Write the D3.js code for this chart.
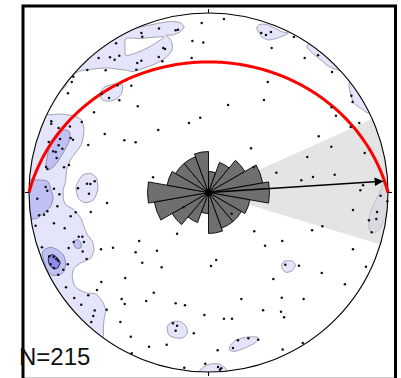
<!DOCTYPE html>
<html>
<head>
<meta charset="utf-8">
<script src="https://cdn.jsdelivr.net/npm/d3@7"></script>
<style>
  html, body { margin: 0; padding: 0; background: #fff; }
  svg { display: block; }
</style>
</head>
<body>
<svg id="net" width="401" height="378"></svg>
<script>
// ---- Poles: projected net coordinates (east, north), % of the net radius ----
const poleE = [-37.4,-36.9,-61.2,-54.9,-52.3,-49.7,-39.7,-37.4,-40.2,-67.5,
  -57.3,-75.3,-76.2,-78.3,-59.5,-55.4,-50.6,-49.7,-43.0,-39.4,
  -63.8,-87.6,-87.6,-83.5,-77.2,-70.6,-57.8,-46.9,-40.6,-89.0,
  -82.7,-76.8,-75.5,-67.0,-83.5,-81.4,-86.5,-85.1,-84.6,-77.7,
  -80.5,-90.5,-89.8,-30.9,-67.7,-65.8,-63.4,-72.7,-66.6,-90.7,
  -89.8,-86.1,-83.1,-3.8,8.6,-27.6,-18.3,-17.0,-9.0,-2.9,
  -25.2,-24.2,-27.7,-25.7,-9.4,29.4,32.0,34.8,33.0,30.9,
  10.9,-4.6,-10.9,-28.0,23.7,25.2,47.6,35.2,53.6,61.0,
  68.8,79.6,80.3,68.6,71.0,84.0,79.2,61.4,68.4,55.0,
  87.0,37.8,70.3,58.2,51.7,86.1,84.6,95.9,-95.4,-56.5,
  -84.2,-89.8,-91.6,-94.4,-74.0,-65.6,-76.8,-86.1,-96.3,-80.1,
  -72.3,-70.3,-69.4,-75.1,-92.8,-77.9,-70.1,-59.9,-53.2,-38.6,
  -40.6,-36.9,-67.9,-88.7,-86.2,-84.8,-83.7,-87.9,-86.1,-80.9,
  -83.7,-78.4,-59.7,-46.4,-79.4,-62.1,-30.5,-74.8,-48.4,-46.7,
  -34.7,-70.9,-67.0,-63.4,-56.7,-64.2,-65.3,-49.1,-43.3,-33.1,
  -42.8,-14.0,12.9,-17.5,25.5,31.5,-28.7,4.3,1.4,-26.1,
  18.3,-18.3,-13.1,30.4,-2.3,8.6,13.1,-19.8,-17.5,-18.3,
  -8.2,-23.3,5.1,16.4,22.2,27.7,13.6,-1.8,-13.5,5.3,
  7.1,6.4,99.6,80.5,93.9,93.5,89.4,90.9,57.7,63.4,
  41.1,80.5,42.8,50.4,63.1,87.7,36.1,76.0,40.8,53.0,
  40.4,42.1,52.5,41.3,-51.5];
const poleN = [88.9,86.8,74.9,75.3,74.0,76.2,72.1,73.4,68.4,68.2,
  68.1,64.5,61.6,55.3,54.9,52.6,59.7,51.4,59.5,48.0,
  44.7,39.7,38.3,35.9,36.7,39.3,32.6,29.1,28.0,28.1,
  29.8,30.4,29.4,26.5,26.3,24.4,23.0,22.6,19.2,15.3,
  14.0,14.2,13.1,8.5,4.9,4.7,6.2,2.3,-0.7,3.1,
  1.0,2.1,-1.0,94.4,96.7,91.3,90.4,90.7,84.4,83.5,
  80.5,79.9,75.5,73.1,74.9,88.9,87.7,89.4,61.6,51.5,
  48.7,41.7,38.7,34.8,24.6,14.2,86.6,80.5,74.9,76.4,
  67.1,53.9,50.4,47.5,42.8,38.7,36.5,31.3,25.5,19.8,
  22.0,11.0,9.9,8.6,6.8,4.0,1.2,-1.8,-3.5,-5.8,
  -7.7,-10.5,-12.4,-12.7,-11.0,-10.9,-13.3,-17.2,-18.5,-19.9,
  -24.6,-24.6,-27.6,-27.6,-30.5,-30.9,-32.8,-31.6,-30.8,-27.0,
  -33.3,-39.1,-37.0,-35.5,-35.9,-37.0,-38.0,-40.0,-42.1,-43.0,
  -45.8,-40.0,-49.9,-47.6,-52.8,-54.3,-55.8,-58.8,-59.3,-62.1,
  -60.4,-62.5,-57.3,-65.8,-65.3,-68.8,-72.1,-72.1,-80.3,-85.9,
  -89.6,-8.2,-11.8,-23.0,-21.6,-29.6,-32.4,-37.6,-40.9,-41.7,
  -59.3,-61.7,-62.8,-65.6,-68.2,-70.3,-70.3,-72.9,-74.2,-77.0,
  -78.4,-84.8,-87.9,-82.3,-81.2,-82.0,-86.6,-95.4,-97.6,-97.2,
  -97.9,-98.7,-4.9,-9.7,-10.9,-14.8,-15.5,-22.2,-21.1,-18.8,
  -27.0,-31.6,-40.2,-40.8,-44.8,-41.3,-48.2,-51.1,-58.6,-59.3,
  -66.4,-69.5,-83.8,-87.4,83.1];
const sampleSize = 215;

// ---- Density contours, closed rings in the same net coordinates ----
// lowest level (rings are filled even-odd, so a nested ring is a hole)
const contourLow = [
  [[-88.3,54.3],[-60.4,96.1],[-45.4,93.3],[-38.2,92.2],[-29.8,93.9],[-21.4,95.3],[-15.9,94.7],
   [-13.6,92.2],[-15.9,89.4],[-20.3,87.7],[-23.7,87.5],[-21.4,85.5],[-20.1,82.2],[-20.6,78.8],
   [-23.7,75.2],[-29.2,71.9],[-36.5,69.1],[-42.1,67.4],[-46.0,68.2],[-49.3,68.5],[-57.1,69.4],
   [-66.6,68.5],[-72.1,67.5],[-75.9,64.7],[-78.7,61.0],[-80.5,58.2]],
  [[-46.0,85.8],[-38.2,85.8],[-31.5,86.4],[-24.8,86.6],[-32.6,81.3],[-39.8,78.0],[-46.0,76.3],[-46.5,81.1]],
  [[-60.4,54.9],[-58.2,58.6],[-52.6,60.4],[-48.0,60.1],[-48.4,55.4],[-51.1,52.3],[-55.4,50.8],[-59.2,51.7]],
  [[-91.6,44.3],[-88.9,43.3],[-82.3,43.7],[-74.9,42.5],[-70.9,40.6],[-69.4,35.9],[-69.7,31.3],
   [-70.9,26.6],[-73.4,23.0],[-76.8,18.3],[-79.0,12.7],[-79.6,6.2],[-80.9,1.6],[-80.9,-3.1],
   [-79.6,-6.8],[-74.9,-9.6],[-71.2,-14.2],[-69.4,-18.8],[-67.5,-23.5],[-64.7,-27.2],[-63.8,-31.9],
   [-65.6,-36.5],[-71.2,-39.3],[-74.9,-42.1],[-75.9,-46.7],[-74.9,-51.4],[-72.1,-54.2],[-67.5,-56.0],
   [-62.8,-56.5],[-59.2,-60.6],[-57.3,-65.3],[-58.2,-70.9],[-58.6,-75.5],[-58.6,-80.1],[-61.6,-85.0],
   [-80,-80],[-110,0],[-100,44]],
  [[-73.8,3.2],[-70.6,9.2],[-66.0,10.7],[-62.3,7.9],[-61.7,1.4],[-64.2,-4.2],[-68.8,-5.7],[-72.5,-3.2]],
  [[26.9,91.5],[28.7,93.7],[33.3,93.3],[40.8,89.6],[44.5,88.7],[38.0,85.9],[33.3,85.0],[29.6,86.8]],
  [[54.9,81.4],[57.7,77.7],[62.3,74.0],[67.0,70.3],[71.6,68.4],[76,68],[60,85]],
  [[78.4,61.0],[79.0,55.4],[80.9,49.9],[84.6,47.1],[89.2,44.3],[95,47],[82,66]],
  [[98.5,6.2],[95.7,0.7],[92.9,-4.9],[90.1,-11.4],[89.2,-17.0],[90.1,-21.6],[92.0,-22.6],
   [95.7,-19.8],[98.5,-14.2],[110,-10],[110,6]],
  [[40.9,-39.8],[42.6,-38.2],[46.5,-38.2],[48.4,-40.4],[46.5,-43.6],[43.2,-44.5],[41.1,-42.6]],
  [[-23.1,-74.9],[-20.3,-72.1],[-15.9,-71.9],[-12.5,-74.4],[-11.8,-78.3],[-14.2,-80.9],[-18.1,-81.1],[-22.0,-79.4]],
  [[12.0,-85.5],[15.3,-82.2],[22.0,-80.5],[27.6,-80.7],[25.9,-83.8],[20.3,-86.6],[14.8,-88.5],[11.7,-87.7]],
  [[-5.3,-100],[-4.7,-98.9],[-1.9,-96.7],[1.9,-95.4],[6.4,-95.7],[9.2,-97.8],[10.3,-100],[10,-105],[-5,-105]]
];
const contourMid = [
  [[-90.7,14.6],[-89.8,20.2],[-88.3,27.6],[-84.2,33.1],[-79.6,35.0],[-77.2,33.1],[-77.7,28.5],
   [-80.5,23.0],[-83.3,18.3],[-86.1,14.6],[-88.9,12.7]],
  [[-96.1,7.0],[-90.7,6.7],[-88.9,5.3],[-87.7,1.4],[-86.6,-3.1],[-87.9,-7.7],[-91.6,-11.4],
   [-95.4,-14.2],[-98.3,-14.8],[-110,-15],[-110,7]],
  [[-74.9,-26.9],[-72.5,-26.4],[-70.9,-28.7],[-71.2,-30.9],[-74.0,-30.9],[-74.9,-29.0]],
  [[-91.6,-31.9],[-87.9,-30.5],[-84.2,-31.9],[-80.9,-34.7],[-79.6,-39.3],[-80.5,-43.9],[-83.3,-46.1],
   [-87.0,-46.1],[-89.8,-43.6],[-91.3,-39.3],[-92.6,-34.7]]
];
const contourHigh = [
  [[-88.9,-35.5],[-86.5,-34.7],[-84.2,-36.5],[-82.7,-39.3],[-84.2,-42.1],[-86.1,-42.5],[-88.3,-40.6],[-89.2,-38.0]]
];

// ---- Axial rose of strikes: 20-degree bins (lower edge) and relative frequency ----
const roseBinStart = [0, 20, 40, 60, 80, 100, 120, 140, 160];
const roseFreq     = [21, 32, 42, 55, 61, 42, 38, 38, 41];
const roseBinWidth = 20;

// ---- Mean direction and its cone, great circle of the mean plane ----
const meanTrend = 86.3;
const meanLength = 0.978;
const coneHalfAngle = 20.5;
const planeStrike = 270;
const planeDip = 28.1;

// ---- Layout ----
const svg = d3.select("#net");
const cx = 208.5, cy = 192.5, R = 179.5;
const x = d3.scaleLinear().domain([-100, 100]).range([cx - R, cx + R]);
const y = d3.scaleLinear().domain([-100, 100]).range([cy + R, cy - R]);
const roseR = d3.scaleLinear().domain([0, d3.max(roseFreq)]).range([0, 61]);
const rad = d => d * Math.PI / 180;

// outer frame
svg.append("rect").attr("x", 23).attr("y", 6).attr("width", 372.5).attr("height", 373.3)
  .attr("fill", "#fff").attr("stroke", "#000").attr("stroke-width", 3);

const defs = svg.append("defs");
defs.append("clipPath").attr("id", "prim")
  .append("circle").attr("cx", cx).attr("cy", cy).attr("r", R);

const smoothRing = d3.line().x(p => x(p[0])).y(p => y(p[1])).curve(d3.curveCardinalClosed.tension(0.3));
const smoothPath = rings => rings.map(r => smoothRing(r)).join("");

const cg = svg.append("g").attr("clip-path", "url(#prim)");
cg.append("path").attr("d", smoothPath(contourLow)).attr("fill-rule", "evenodd")
  .attr("fill", "#e4e5fa").attr("stroke", "#8d8d9c").attr("stroke-width", 0.8);
cg.append("path").attr("d", smoothPath(contourMid)).attr("fill-rule", "evenodd")
  .attr("fill", "#bfc0f4").attr("stroke", "#7d7d95").attr("stroke-width", 0.8);
cg.append("path").attr("d", smoothPath(contourHigh))
  .attr("fill", "#8c8cf0").attr("stroke", "#111").attr("stroke-width", 1);

// confidence cone around the mean direction
cg.append("path")
  .attr("transform", `translate(${cx},${cy})`)
  .attr("d", d3.arc()({innerRadius: 0, outerRadius: R,
    startAngle: rad(meanTrend - coneHalfAngle), endAngle: rad(meanTrend + coneHalfAngle)}))
  .attr("fill", "#d2d2d2").attr("opacity", 0.6);

// rose diagram (axial: each bin drawn twice, 180 degrees apart)
const petals = [];
roseBinStart.forEach((b, i) => {
  petals.push({a0: b, a1: b + roseBinWidth, f: roseFreq[i]});
  petals.push({a0: b + 180, a1: b + 180 + roseBinWidth, f: roseFreq[i]});
});
const petalArc = d3.arc().innerRadius(0);
svg.append("g").attr("transform", `translate(${cx},${cy})`)
  .selectAll("path").data(petals).join("path")
  .attr("d", d => petalArc.outerRadius(roseR(d.f)).startAngle(rad(d.a0)).endAngle(rad(d.a1))())
  .attr("fill", "#6f6f6f").attr("stroke", "#000").attr("stroke-width", 0.9)
  .attr("stroke-linejoin", "round");

// primitive circle and cardinal ticks
svg.append("circle").attr("cx", cx).attr("cy", cy).attr("r", R)
  .attr("fill", "none").attr("stroke", "#000").attr("stroke-width", 1.1);
[0, 90, 180, 270].forEach(a => {
  svg.append("line")
    .attr("x1", cx + R * Math.sin(rad(a))).attr("y1", cy - R * Math.cos(rad(a)))
    .attr("x2", cx + (R + 4) * Math.sin(rad(a))).attr("y2", cy - (R + 4) * Math.cos(rad(a)))
    .attr("stroke", "#000").attr("stroke-width", 1);
});

// equal-area (Schmidt) projection of a line, to net % coordinates
function project(trend, plunge) {
  const r = 100 * Math.SQRT2 * Math.sin(rad(90 - plunge) / 2);
  return [r * Math.sin(rad(trend)), r * Math.cos(rad(trend))];
}

// great circle of the mean plane
const dd = planeStrike + 90;
const sv = [Math.sin(rad(planeStrike)), Math.cos(rad(planeStrike)), 0];
const dv = [Math.sin(rad(dd)) * Math.cos(rad(planeDip)), Math.cos(rad(dd)) * Math.cos(rad(planeDip)), Math.sin(rad(planeDip))];
const gc = d3.range(0, 180.5, 1).map(t => {
  const c = Math.cos(rad(t)), s = Math.sin(rad(t));
  const v = [sv[0] * c + dv[0] * s, sv[1] * c + dv[1] * s, sv[2] * c + dv[2] * s];
  const pl = Math.asin(Math.max(-1, Math.min(1, v[2]))) * 180 / Math.PI;
  const tr = Math.atan2(v[0], v[1]) * 180 / Math.PI;
  return project(tr, pl);
});
svg.append("path")
  .attr("d", d3.line().x(p => x(p[0])).y(p => y(p[1]))(gc))
  .attr("fill", "none").attr("stroke", "#ff0000").attr("stroke-width", 3);

// poles
svg.append("g").selectAll("circle").data(d3.range(poleE.length)).join("circle")
  .attr("cx", i => x(poleE[i])).attr("cy", i => y(poleN[i])).attr("r", 1.25)
  .attr("fill", "#111");

// mean direction arrow
const tipE = 100 * meanLength * Math.sin(rad(meanTrend));
const tipN = 100 * meanLength * Math.cos(rad(meanTrend));
const tx = x(tipE), ty = y(tipN);
const ang = Math.atan2(ty - cy, tx - cx);
const headL = 9, headW = 4.2;
const bx = tx - headL * Math.cos(ang), by = ty - headL * Math.sin(ang);
svg.append("line").attr("x1", cx).attr("y1", cy).attr("x2", bx).attr("y2", by)
  .attr("stroke", "#000").attr("stroke-width", 1.6);
svg.append("path")
  .attr("d", `M${tx},${ty}L${bx - headW * Math.sin(ang)},${by + headW * Math.cos(ang)}L${bx + headW * Math.sin(ang)},${by - headW * Math.cos(ang)}Z`)
  .attr("fill", "#000");

svg.append("circle").attr("cx", cx).attr("cy", cy).attr("r", 3.6).attr("fill", "#000");

svg.append("text").attr("x", 19).attr("y", 365)
  .attr("font-family", "'Liberation Sans', Arial, sans-serif").attr("font-size", 24)
  .attr("fill", "#111").text("N=" + sampleSize);
</script>
</body>
</html>
